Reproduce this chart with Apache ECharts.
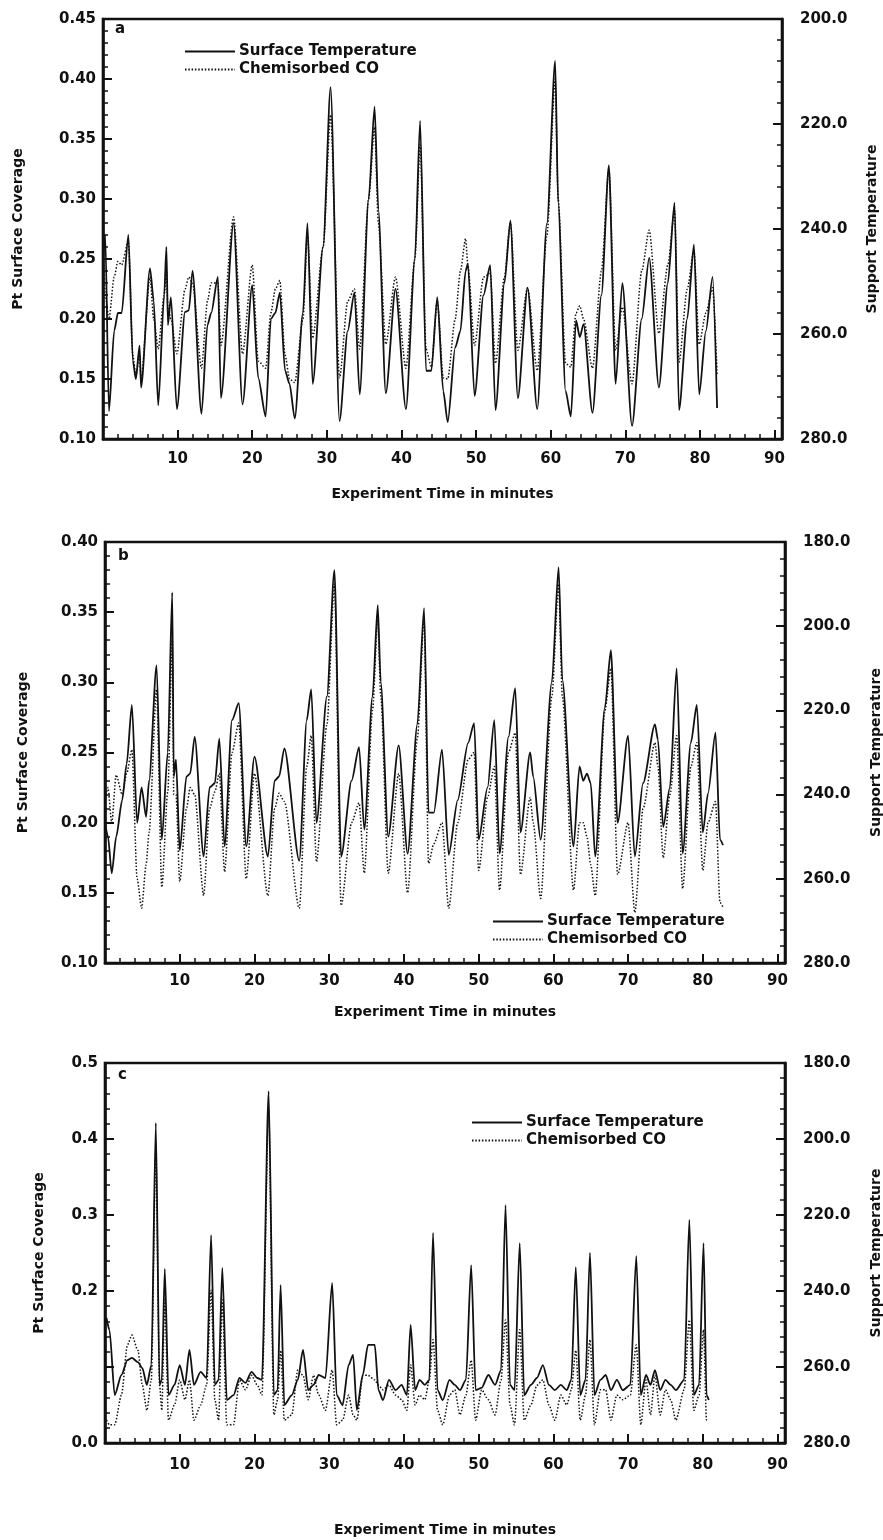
<!DOCTYPE html>
<html>
<head>
<meta charset="utf-8">
<script src="https://cdn.jsdelivr.net/npm/echarts@6/dist/echarts.min.js"></script>
<style>
  html, body { margin: 0; padding: 0; background: #fff; }
  #chart { width: 883px; height: 1540px; }
</style>
</head>
<body>
<div id="chart"></div>
<script>
// Panel a: time (min), surface temperature (right axis), chemisorbed CO coverage (left axis)
const aTime = [0.0,0.3,0.8,1.5,2.0,2.5,3.4,4.0,4.4,4.9, 5.1,6.3,6.8,7.4,8.2,8.5,8.7,9.1,9.9,11.0,
  11.5,12.0,13.2,14.0,14.5,15.4,15.8,17.5,18.7,20.0, 20.8,21.8,22.5,23.1,23.7,24.4,25.0,25.7,26.8,27.4,
  28.1,29.5,30.5,31.7,32.8,33.7,34.4,35.6,36.4,36.9, 37.9,39.2,40.6,41.8,42.5,43.3,44.0,44.8,45.6,46.2,
  47.2,47.9,48.6,48.9,49.8,51.0,51.9,52.6,53.8,54.6, 55.6,56.9,58.2,59.5,60.6,61.0,62.0,62.7,63.4,63.9,
  64.4,65.6,66.8,67.8,68.7,69.6,70.9,72.2,73.2,74.5, 75.7,76.6,77.2,78.3,79.2,79.9,80.8,81.7,82.3];
const aSurface = [245.7,241.1,274.7,259.4,256.0,256.0,241.1,265.1,268.6,262.2, 270.2,247.5,253.7,273.6,252.6,243.4,258.3,253.0,274.3,255.8,
  255.5,248.0,275.2,258.3,256.0,249.1,272.2,238.9,273.4,250.7, 268.3,275.7,257.1,256.0,252.1,267.0,269.5,276.1,256.0,238.9,
  269.5,243.4,213.0,276.6,259.4,252.1,271.5,234.3,216.7,236.3, 271.3,251.4,274.3,245.7,219.4,267.0,267.0,253.0,270.9,276.8,
  262.6,259.4,248.0,246.6,271.8,252.6,246.9,274.5,250.3,238.4, 272.2,251.2,274.3,238.9,208.0,235.0,270.9,275.7,257.4,260.6,
  258.1,275.0,252.6,227.9,269.5,250.3,277.5,257.1,245.5,270.2, 250.3,235.0,274.5,257.1,243.0,271.5,259.4,249.1,274.1];
const aCO = [0.27,0.22,0.20,0.235,0.248,0.245,0.265,0.17,0.153,0.17, 0.15,0.235,0.20,0.175,0.22,0.24,0.21,0.20,0.171,0.225,
  0.235,0.23,0.159,0.215,0.23,0.23,0.178,0.285,0.171,0.245, 0.165,0.159,0.205,0.225,0.232,0.17,0.15,0.147,0.20,0.27,
  0.184,0.26,0.37,0.151,0.215,0.225,0.175,0.30,0.36,0.28, 0.179,0.235,0.159,0.25,0.345,0.175,0.16,0.215,0.151,0.15,
  0.20,0.24,0.267,0.245,0.178,0.235,0.238,0.163,0.235,0.28, 0.174,0.226,0.157,0.27,0.40,0.30,0.163,0.16,0.205,0.211,
  0.20,0.159,0.24,0.325,0.174,0.21,0.146,0.24,0.274,0.188, 0.245,0.29,0.164,0.225,0.257,0.179,0.205,0.226,0.154];

// Panel b
const bTime = [0.0,0.4,0.9,1.5,2.3,2.9,3.6,4.3,4.9,5.5, 5.9,6.9,7.6,8.4,9.0,9.2,9.5,10.0,10.9,11.4,
  12.0,13.2,14.0,14.7,15.3,16.0,17.0,17.9,18.9,20.0, 21.8,22.7,23.3,24.0,26.0,27.0,27.6,28.3,29.7,30.7,
  31.6,33.0,34.0,34.7,35.8,36.5,36.9,37.9,39.3,40.5, 41.8,42.7,43.3,44.0,45.1,46.0,47.2,48.6,49.4,50.0,
  51.2,52.1,52.8,54.0,54.9,55.6,56.9,57.3,58.3,59.8, 60.7,61.2,62.7,63.5,64.0,64.5,65.0,65.6,66.9,67.7,
  68.6,70.0,70.9,72.0,73.6,74.0,74.7,75.6,76.5,77.3, 78.4,79.2,80.0,80.7,81.7,82.3,82.7];
const bSurface = [246.7,250.0,258.7,250.0,241.3,232.7,218.7,246.7,238.3,245.3, 236.7,209.3,250.7,230.0,192.0,235.7,231.7,253.3,235.7,235.0,
  226.3,254.7,238.3,237.3,226.7,252.3,222.3,218.3,252.3,231.0, 254.7,236.7,235.7,229.0,255.7,222.3,215.0,246.7,216.7,186.7,
  254.7,236.7,228.7,248.3,216.7,195.0,213.3,250.0,228.3,254.0, 223.3,195.7,244.3,244.3,229.3,254.3,241.3,227.7,223.0,250.7,
  238.3,222.3,254.0,226.3,214.7,249.0,230.0,235.7,250.7,213.3, 186.0,212.7,252.3,233.3,236.7,235.0,237.3,254.7,219.3,205.7,
  246.7,226.0,254.7,237.3,223.3,227.0,247.7,238.3,210.0,254.0, 227.7,218.7,249.0,239.7,225.3,250.7,252.0];
const bCO = [0.215,0.225,0.20,0.234,0.22,0.235,0.252,0.16,0.139,0.17, 0.193,0.295,0.154,0.222,0.33,0.22,0.22,0.158,0.21,0.225,
  0.22,0.148,0.21,0.222,0.235,0.165,0.25,0.271,0.16,0.235, 0.148,0.21,0.221,0.215,0.139,0.24,0.262,0.172,0.27,0.37,
  0.141,0.20,0.214,0.164,0.28,0.345,0.29,0.164,0.235,0.15, 0.26,0.345,0.171,0.185,0.20,0.139,0.20,0.245,0.25,0.166,
  0.218,0.24,0.152,0.25,0.264,0.163,0.218,0.20,0.146,0.29, 0.37,0.29,0.152,0.20,0.20,0.19,0.17,0.148,0.28,0.31,
  0.163,0.20,0.136,0.21,0.257,0.24,0.175,0.22,0.262,0.153, 0.24,0.257,0.166,0.20,0.215,0.143,0.14];

// Panel c
const cTime = [0.2,0.6,1.3,2.2,3.0,3.6,4.4,5.0,5.6,6.2, 6.8,7.3,7.6,8.0,8.5,9.3,10.0,10.7,11.3,11.9,
  12.8,13.6,14.2,14.7,15.2,15.7,16.3,17.2,18.0,18.8, 19.6,20.4,21.0,21.9,22.6,23.1,23.5,24.0,25.0,25.8,
  26.5,27.2,27.9,28.6,29.5,30.4,31.0,31.8,32.6,33.2, 33.7,34.5,35.2,36.1,36.6,37.2,38.0,38.9,39.7,40.4,
  40.9,41.5,42.1,42.8,43.4,43.9,44.5,45.2,46.1,46.8, 47.5,48.3,49.0,49.6,50.4,51.3,52.2,53.0,53.6,54.2,
  54.8,55.5,56.1,57.0,57.8,58.6,59.4,60.2,61.0,61.8, 62.4,63.0,63.6,64.3,64.9,65.5,66.3,67.0,67.7,68.5,
  69.3,70.3,71.1,71.7,72.4,73.0,73.6,74.3,75.0,75.7, 76.4,77.5,78.2,78.8,79.5,80.1,80.5,80.8];
const cSurface = [247.1,250.3,267.4,262.1,258.2,257.6,258.7,260.3,264.7,259.5,
  195.8,264.7,263.4,234.2,267.4,264.7,259.5,264.7,255.5,264.7,
  261.3,262.9,225.3,264.7,263.4,233.9,268.7,267.4,262.9,264.2,
  261.3,262.9,263.4,187.4,267.4,266.1,238.4,270.0,267.4,263.4,
  255.5,266.1,264.7,262.1,262.9,237.9,267.4,270.0,259.5,256.8,
  271.3,262.1,254.2,254.2,266.1,268.7,263.4,266.1,264.7,267.4,
  248.9,266.1,263.4,264.7,263.4,224.7,266.1,268.7,263.4,264.7,
  266.1,263.4,233.2,266.1,265.5,262.1,264.7,260.8,217.4,264.7,
  266.1,227.4,267.4,264.7,262.9,259.5,264.7,266.1,264.7,266.1,
  263.4,233.7,267.4,263.4,230.0,267.4,263.4,262.1,266.1,263.4,
  266.1,264.7,230.8,267.4,262.1,264.7,260.8,266.1,263.4,264.7,
  266.1,263.4,221.3,267.4,264.7,227.4,267.4,268.7];
const cCO = [0.030,0.024,0.024,0.063,0.129,0.142,0.122,0.076,0.043,0.083,
  0.386,0.076,0.043,0.188,0.030,0.050,0.083,0.057,0.083,0.030,
  0.050,0.076,0.201,0.057,0.030,0.188,0.024,0.024,0.083,0.070,
  0.089,0.076,0.063,0.438,0.037,0.057,0.122,0.030,0.037,0.096,
  0.089,0.057,0.089,0.063,0.043,0.096,0.024,0.030,0.063,0.037,
  0.030,0.089,0.089,0.083,0.076,0.070,0.076,0.063,0.057,0.043,
  0.103,0.050,0.063,0.057,0.083,0.136,0.043,0.024,0.063,0.070,
  0.037,0.063,0.109,0.030,0.070,0.057,0.037,0.083,0.162,0.050,
  0.024,0.149,0.030,0.050,0.076,0.083,0.050,0.030,0.063,0.050,
  0.070,0.122,0.030,0.063,0.136,0.024,0.070,0.070,0.030,0.063,
  0.057,0.063,0.129,0.024,0.083,0.037,0.089,0.037,0.070,0.057,
  0.030,0.070,0.162,0.043,0.063,0.149,0.030,0.030];

// Axis ranges per panel: [coverage min, coverage max, coverage step, decimals]
const panelLetters = ['a', 'b', 'c'];
const coverageRanges = [[0.10, 0.45, 0.05, 2], [0.10, 0.40, 0.05, 2], [0.0, 0.5, 0.1, 1]];
// coverage tick values left without a printed label, per panel
const unlabeledCoverage = [[], [], [0.1]];
const tempRanges = [[200, 280], [180, 280], [180, 280]];
const xTitle = 'Experiment Time in minutes';
const leftTitle = 'Pt Surface Coverage';
const rightTitle = 'Support Temperature';
const nameSurface = 'Surface Temperature';
const nameCO = 'Chemisorbed CO';

const FONT = 'DejaVu Sans';
const INK = '#111';

const zip = (t, v) => t.map((x, i) => [x, v[i]]);
const panels = [
  { time: aTime, surf: aSurface, co: aCO },
  { time: bTime, surf: bSurface, co: bCO },
  { time: cTime, surf: cSurface, co: cCO }
];

// layout of the three stacked plots
const grids = [
  { left: 103, top: 19, width: 679, height: 420 },
  { left: 105, top: 542, width: 680, height: 421 },
  { left: 105, top: 1063, width: 680, height: 380 }
];
const xNameGap = [48, 42, 80];
const xLabelMargin = [13, 11, 15];
const leftNameGap = [78, 75, 59];
const rightNameGap = [83, 84, 84];

const tickStyle = { inside: true, length: 9, lineStyle: { color: INK, width: 2 } };
const minorStyle = { show: true, splitNumber: 5, length: 5, lineStyle: { color: INK, width: 1.5 } };
const axisLineStyle = { show: true, lineStyle: { color: INK, width: 2.6 } };
const labelFont = { fontFamily: FONT, fontWeight: 'bold', fontSize: 15, color: INK };
const nameFont = { fontFamily: FONT, fontWeight: 'bold', fontSize: 14, color: INK };

const xAxes = grids.map((g, i) => ({
  type: 'value', gridIndex: i, min: 0, max: 91, interval: 10,
  axisLine: axisLineStyle, axisTick: tickStyle, minorTick: minorStyle,
  splitLine: { show: false }, minorSplitLine: { show: false },
  axisLabel: Object.assign({ margin: xLabelMargin[i], showMinLabel: false, showMaxLabel: false }, labelFont),
  name: xTitle, nameLocation: 'middle', nameGap: xNameGap[i], nameTextStyle: nameFont
}));

const yAxes = [];
grids.forEach((g, i) => {
  const c = coverageRanges[i];
  const t = tempRanges[i];
  const skip = unlabeledCoverage[i];
  yAxes.push({
    type: 'value', gridIndex: i, position: 'left', min: c[0], max: c[1], interval: c[2],
    axisLine: axisLineStyle, axisTick: tickStyle, minorTick: minorStyle,
    splitLine: { show: false }, minorSplitLine: { show: false },
    axisLabel: Object.assign({
      margin: 7,
      formatter: v => skip.some(s => Math.abs(s - v) < 1e-9) ? '' : v.toFixed(c[3])
    }, labelFont),
    name: leftTitle, nameLocation: 'middle', nameGap: leftNameGap[i], nameTextStyle: nameFont
  });
  yAxes.push({
    type: 'value', gridIndex: i, position: 'right', min: t[0], max: t[1], interval: 20, inverse: true,
    axisLine: axisLineStyle, axisTick: tickStyle, minorTick: minorStyle,
    splitLine: { show: false }, minorSplitLine: { show: false },
    axisLabel: Object.assign({ margin: 18, formatter: v => v.toFixed(1) }, labelFont),
    name: rightTitle, nameLocation: 'middle', nameGap: rightNameGap[i], nameTextStyle: nameFont
  });
});

const series = [];
panels.forEach((p, i) => {
  series.push({
    name: nameSurface, type: 'line', xAxisIndex: i, yAxisIndex: 2 * i + 1,
    data: zip(p.time, p.surf), showSymbol: false, symbol: 'none',
    smooth: 0.25, smoothMonotone: 'x',
    lineStyle: { color: INK, width: 1.8, type: 'solid' }, itemStyle: { color: INK }, z: 3
  });
  series.push({
    name: nameCO, type: 'line', xAxisIndex: i, yAxisIndex: 2 * i,
    data: zip(p.time, p.co), showSymbol: false, symbol: 'none',
    smooth: 0.25, smoothMonotone: 'x',
    lineStyle: { color: INK, width: 1.5, type: [1.5, 1.8] }, itemStyle: { color: INK }, z: 2
  });
});

const legendPos = [
  { left: 179, top: 39 },
  { left: 487, top: 909 },
  { left: 466, top: 1110 }
];
const legends = legendPos.map(pos => Object.assign({
  orient: 'vertical', itemWidth: 50, itemHeight: 12, itemGap: 3,
  selectedMode: false,
  itemStyle: { opacity: 0 },
  data: [nameSurface, nameCO],
  textStyle: { fontFamily: FONT, fontWeight: 'bold', fontSize: 15, color: INK, padding: [0, 0, 0, -1] }
}, pos));

const letterPos = [[115, 22], [118, 549], [118, 1068]];
const graphics = panelLetters.map((s, i) => ({
  type: 'text', left: letterPos[i][0], top: letterPos[i][1],
  style: { text: s, font: 'bold 15px "DejaVu Sans"', fill: INK }
}));

const chart = echarts.init(document.getElementById('chart'), null, { renderer: 'canvas' });
chart.setOption({
  animation: false,
  backgroundColor: '#fff',
  grid: grids.map(g => Object.assign({
    show: true, borderColor: INK, borderWidth: 2.6, containLabel: false, outerBoundsMode: 'none'
  }, g)),
  xAxis: xAxes,
  yAxis: yAxes,
  legend: legends,
  graphic: graphics,
  series: series
});
</script>
</body>
</html>
